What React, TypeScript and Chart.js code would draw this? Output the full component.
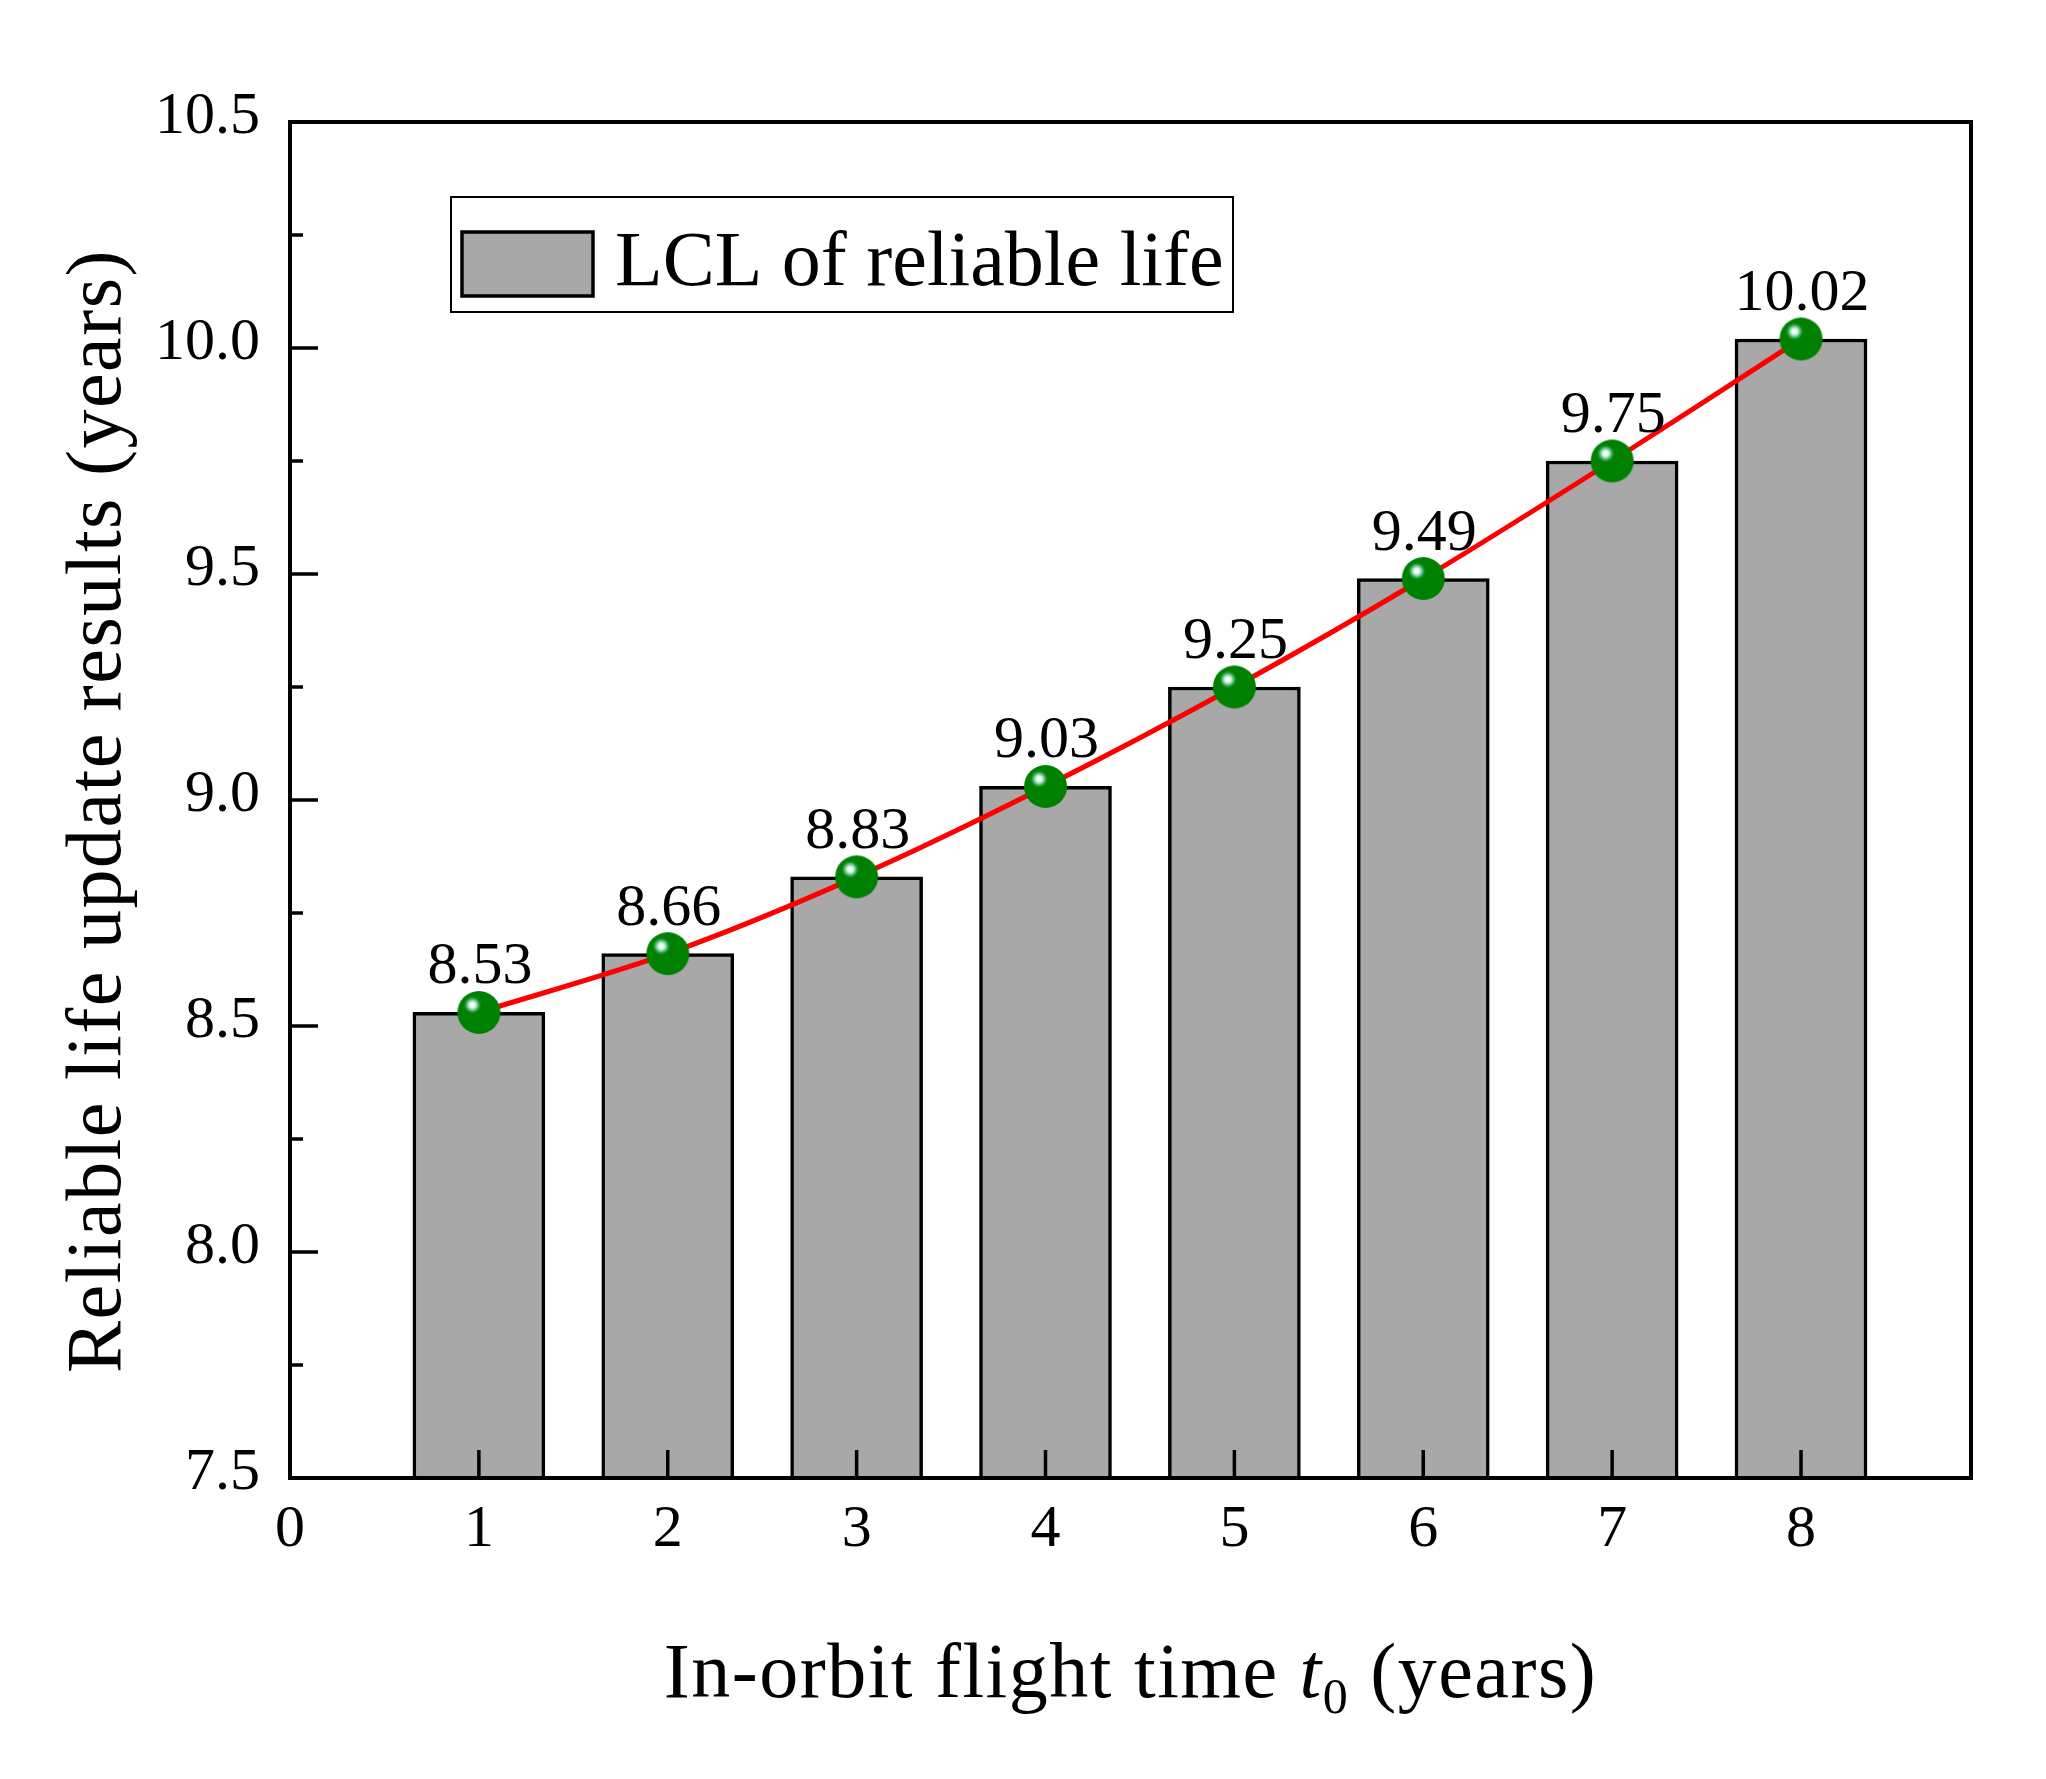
import React, { useEffect, useRef } from 'react';
import { Chart, registerables } from 'chart.js';

Chart.register(...registerables);

// ---------- data ----------
const flightYears = [1, 2, 3, 4, 5, 6, 7, 8];
const lclValues = [8.53, 8.66, 8.83, 9.03, 9.25, 9.49, 9.75, 10.02];
const valueLabels = ['8.53', '8.66', '8.83', '9.03', '9.25', '9.49', '9.75', '10.02'];
const xTickValues = [0, 1, 2, 3, 4, 5, 6, 7, 8];
const yMajorTicks = [7.5, 8.0, 8.5, 9.0, 9.5, 10.0, 10.5];
const legendLabel = 'LCL of reliable life';
const yTitleText = 'Reliable life update results (years)';
const xTitleMain = 'In-orbit flight time ';
const xTitleVar = 't';
const xTitleSub = '0';
const xTitleEnd = ' (years)';

const SERIF = "'Liberation Serif', 'Times New Roman', serif";

function makeSphere(r: number): HTMLCanvasElement {
  const size = Math.ceil(r * 2) + 2;
  const c = document.createElement('canvas');
  c.width = size;
  c.height = size;
  const g = c.getContext('2d')!;
  const cx = size / 2;
  const cy = size / 2;
  g.beginPath();
  g.arc(cx, cy, r, 0, Math.PI * 2);
  g.fillStyle = '#008000';
  g.fill();
  const hx = cx - 6.5;
  const hy = cy - 7.5;
  const grad = g.createRadialGradient(hx, hy, 0, hx, hy, 9.5);
  grad.addColorStop(0, '#ffffff');
  grad.addColorStop(0.3, '#dff5e6');
  grad.addColorStop(0.6, '#55bb80');
  grad.addColorStop(1, 'rgba(0,128,0,0)');
  g.save();
  g.beginPath();
  g.arc(cx, cy, r, 0, Math.PI * 2);
  g.clip();
  g.fillStyle = grad;
  g.fillRect(0, 0, size, size);
  g.restore();
  return c;
}

const decorPlugin = {
  id: 'decor',
  afterDatasetsDraw(chart: any) {
    const { ctx, chartArea } = chart;
    const xs = chart.scales.x;
    const ys = chart.scales.y;
    ctx.save();
    // data labels
    const meta = chart.getDatasetMeta(1);
    ctx.fillStyle = '#000';
    ctx.font = `60px ${SERIF}`;
    ctx.textAlign = 'center';
    ctx.textBaseline = 'alphabetic';
    meta.data.forEach((pt: any, i: number) => {
      ctx.fillText(valueLabels[i], pt.x + 1, pt.y - 29);
    });
    // ticks (inward)
    ctx.strokeStyle = '#000';
    ctx.lineWidth = 3.5;
    ctx.beginPath();
    xs.ticks.forEach((t: any) => {
      const px = xs.getPixelForValue(t.value);
      ctx.moveTo(px, chartArea.bottom);
      ctx.lineTo(px, chartArea.bottom - 28);
    });
    ys.ticks.forEach((t: any) => {
      const py = ys.getPixelForValue(t.value);
      const major = Math.abs(t.value * 2 - Math.round(t.value * 2)) < 1e-6;
      ctx.moveTo(chartArea.left, py);
      ctx.lineTo(chartArea.left + (major ? 28 : 13), py);
    });
    ctx.stroke();
    // frame
    ctx.lineWidth = 4;
    ctx.strokeRect(chartArea.left, chartArea.top, chartArea.right - chartArea.left, chartArea.bottom - chartArea.top);
    ctx.restore();
  },
  afterDraw(chart: any) {
    const { ctx, chartArea } = chart;
    ctx.save();
    // legend
    ctx.strokeStyle = '#000';
    ctx.lineWidth = 2;
    ctx.fillStyle = '#fff';
    ctx.fillRect(451, 197, 782, 115);
    ctx.strokeRect(451, 197, 782, 115);
    ctx.fillStyle = '#a8a8a8';
    ctx.fillRect(462, 232, 131, 64);
    ctx.lineWidth = 3.5;
    ctx.strokeRect(462, 232, 131, 64);
    ctx.fillStyle = '#000';
    ctx.font = `78px ${SERIF}`;
    ctx.textAlign = 'left';
    ctx.textBaseline = 'alphabetic';
    ctx.fillText(legendLabel, 615, 285);
    // y title
    (ctx as any).letterSpacing = '1.5px';
    ctx.save();
    ctx.translate(120, (chartArea.top + chartArea.bottom) / 2 + 11);
    ctx.rotate(-Math.PI / 2);
    ctx.textAlign = 'center';
    ctx.font = `78px ${SERIF}`;
    ctx.fillText(yTitleText, 0, 0);
    ctx.restore();
    // x title
    const fMain = `78px ${SERIF}`;
    const fVar = `italic 78px ${SERIF}`;
    const fSub = `50px ${SERIF}`;
    ctx.font = fMain;
    const w1 = ctx.measureText(xTitleMain).width;
    const w3 = ctx.measureText(xTitleEnd).width;
    ctx.font = fVar;
    const w2 = ctx.measureText(xTitleVar).width;
    ctx.font = fSub;
    const wSub = ctx.measureText(xTitleSub).width;
    const total = w1 + w2 + wSub + w3;
    const cx = (chartArea.left + chartArea.right) / 2;
    let x = cx - total / 2;
    const base = 1697;
    ctx.textAlign = 'left';
    ctx.font = fMain;
    ctx.fillText(xTitleMain, x, base);
    x += w1;
    ctx.font = fVar;
    ctx.fillText(xTitleVar, x, base);
    x += w2;
    ctx.font = fSub;
    ctx.fillText(xTitleSub, x, base + 16);
    x += wSub;
    ctx.font = fMain;
    ctx.fillText(xTitleEnd, x, base);
    ctx.restore();
  },
};

export default function App() {
  const canvasRef = useRef<HTMLCanvasElement | null>(null);

  useEffect(() => {
    const canvas = canvasRef.current;
    if (!canvas) return;
    const sphere = makeSphere(21.5);
    const points = flightYears.map((x, i) => ({ x, y: lclValues[i] }));
    const chart = new Chart(canvas, {
      type: 'bar',
      data: {
        datasets: [
          {
            type: 'bar',
            label: legendLabel,
            data: points,
            backgroundColor: '#a8a8a8',
            borderColor: '#000',
            borderWidth: 3.5,
            barThickness: 132,
            order: 2,
          } as any,
          {
            type: 'line',
            label: 'trend',
            data: points,
            borderColor: '#ff0000',
            borderWidth: 5,
            tension: 0.3,
            pointStyle: sphere,
            pointRadius: 21,
            pointHoverRadius: 21,
            fill: false,
            order: 1,
          } as any,
        ],
      },
      options: {
        responsive: false,
        maintainAspectRatio: false,
        animation: false,
        devicePixelRatio: 1,
        layout: { padding: { left: 0, top: 122, right: 75, bottom: 0 } },
        plugins: {
          legend: { display: false },
          tooltip: { enabled: false },
        },
        scales: {
          x: {
            type: 'linear',
            min: 0,
            max: 8.9,
            offset: false,
            afterFit(scale: any) {
              scale.height = 301;
            },
            afterBuildTicks(scale: any) {
              scale.ticks = xTickValues.map((v) => ({ value: v }));
            },
            ticks: {
              autoSkip: false,
              maxRotation: 0,
              padding: 16,
              color: '#000',
              font: { family: SERIF, size: 60 },
              callback: (v: any) => String(v),
            },
            grid: { display: false, drawTicks: false, offset: false },
            border: { display: false },
          },
          y: {
            type: 'linear',
            min: 7.5,
            max: 10.5,
            afterFit(scale: any) {
              scale.width = 290;
            },
            afterBuildTicks(scale: any) {
              const ticks: any[] = [];
              for (let i = 0; i < yMajorTicks.length; i++) {
                ticks.push({ value: yMajorTicks[i] });
                if (i < yMajorTicks.length - 1) ticks.push({ value: (yMajorTicks[i] + yMajorTicks[i + 1]) / 2 });
              }
              scale.ticks = ticks;
            },
            ticks: {
              autoSkip: false,
              padding: 30,
              labelOffset: -5,
              color: '#000',
              font: { family: SERIF, size: 60 },
              callback: (v: any) => (yMajorTicks.some((m) => Math.abs(m - v) < 1e-9) ? Number(v).toFixed(1) : ''),
            },
            grid: { display: false, drawTicks: false },
            border: { display: false },
          },
        },
      } as any,
      plugins: [decorPlugin],
    });
    return () => chart.destroy();
  }, []);

  return (
    <div style={{ position: 'absolute', left: 0, top: 0, width: 2046, height: 1779, background: '#fff' }}>
      <canvas ref={canvasRef} width={2046} height={1779} style={{ width: 2046, height: 1779, display: 'block' }} />
    </div>
  );
}
